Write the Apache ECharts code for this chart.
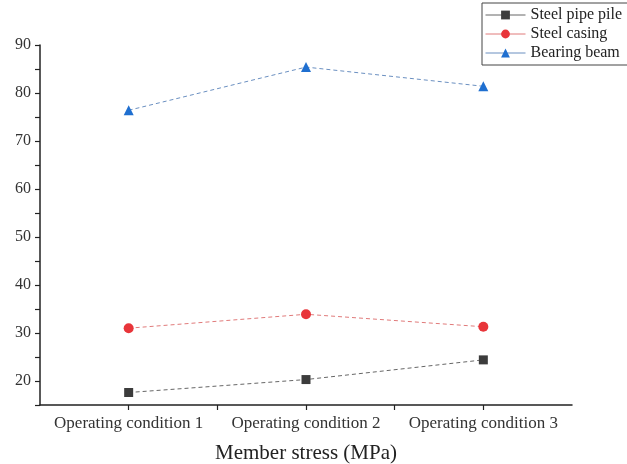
<!DOCTYPE html>
<html>
<head>
<meta charset="utf-8">
<script src="https://cdn.jsdelivr.net/npm/echarts@6/dist/echarts.min.js"></script>
<style>
html, body { margin: 0; padding: 0; background: #fff; }
#chart { width: 627px; height: 464px; }
</style>
</head>
<body>
<div id="chart"></div>
<script>
var conditions = ['Operating condition 1', 'Operating condition 2', 'Operating condition 3'];
var pilePositions = [1, 2, 3];
var steelPipePile = [17.6, 20.3, 24.4];
var steelCasing = [31.0, 33.9, 31.3];
var bearingBeam = [76.4, 85.4, 81.4];

function pairs(vals) {
  return vals.map(function (v, i) { return [pilePositions[i], v]; });
}

var serif = 'Liberation Serif';
var myChart = echarts.init(document.getElementById('chart'));
var option = {
  animation: false,
  textStyle: { fontFamily: serif },
  grid: { left: 40, right: 55, top: 45, bottom: 59, outerBoundsMode: 'none', containLabel: false },
  legend: {
    orient: 'vertical',
    left: 482,
    top: 3,
    itemGap: 3,
    itemWidth: 40,
    itemHeight: 11,
    padding: [4, 8, 4, 3],
    borderColor: '#444',
    borderWidth: 1,
    lineStyle: { type: 'solid', width: 1 },
    textStyle: { fontFamily: serif, fontSize: 16, color: '#222' },
    data: ['Steel pipe pile', 'Steel casing', 'Bearing beam']
  },
  xAxis: {
    type: 'value',
    min: 0.5,
    max: 3.5,
    interval: 0.5,
    name: 'Member stress (MPa)',
    nameLocation: 'middle',
    nameGap: 38,
    nameTextStyle: { fontFamily: serif, fontSize: 21, color: '#222' },
    axisLine: { show: true, lineStyle: { color: '#222', width: 1.5 } },
    axisTick: { show: true, length: 5, lineStyle: { color: '#222', width: 1.2 } },
    axisLabel: {
      fontFamily: serif, fontSize: 17, color: '#333', margin: 10,
      showMinLabel: false, showMaxLabel: false,
      formatter: function (v) {
        return Number.isInteger(v) ? conditions[v - 1] : '';
      }
    },
    splitLine: { show: false }
  },
  yAxis: {
    type: 'value',
    min: 15,
    max: 90,
    interval: 5,
    axisLine: { show: true, lineStyle: { color: '#222', width: 1.5 } },
    axisTick: { show: true, length: 5, lineStyle: { color: '#222', width: 1.2 } },
    axisLabel: {
      fontFamily: serif, fontSize: 16, color: '#333', margin: 9,
      formatter: function (v) { return v % 10 === 0 ? v : ''; }
    },
    splitLine: { show: false }
  },
  series: [
    {
      name: 'Steel pipe pile',
      type: 'line',
      data: pairs(steelPipePile),
      symbol: 'rect',
      symbolSize: 9,
      itemStyle: { color: '#3c3c3c' },
      lineStyle: { color: '#666', width: 1, type: [4, 3] }
    },
    {
      name: 'Steel casing',
      type: 'line',
      data: pairs(steelCasing),
      symbol: 'circle',
      symbolSize: 10,
      itemStyle: { color: '#e8353a' },
      lineStyle: { color: '#e07a7a', width: 1, type: [4, 3] }
    },
    {
      name: 'Bearing beam',
      type: 'line',
      data: pairs(bearingBeam),
      symbol: 'triangle',
      symbolSize: 10,
      itemStyle: { color: '#1f6fd0' },
      lineStyle: { color: '#6a8fc0', width: 1, type: [4, 3] }
    }
  ]
};
myChart.setOption(option);
</script>
</body>
</html>
